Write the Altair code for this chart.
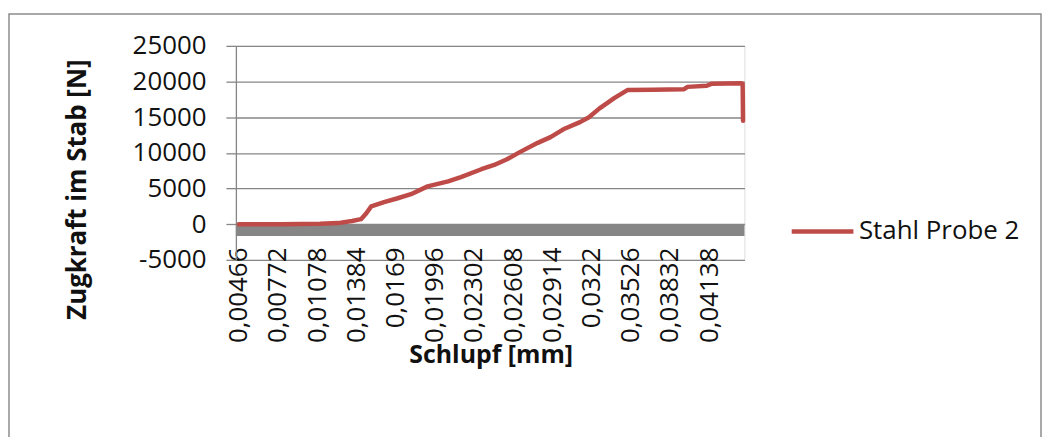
import altair as alt
import pandas as pd

# ---- data ----
series_name = "Stahl Probe 2"
slip_mm = [0.00466, 0.0080, 0.0110, 0.0124, 0.0135, 0.0142, 0.0146, 0.0150, 0.0160,
           0.0170, 0.0181, 0.0194, 0.0210, 0.0220, 0.0236, 0.0246, 0.0256, 0.0266,
           0.0280, 0.0290, 0.0300, 0.0313, 0.0320, 0.0328, 0.0340, 0.0350, 0.0370,
           0.0394, 0.0397, 0.0412, 0.0416, 0.0439, 0.0440, 0.04403]
force_n = [0, 0, 50, 150, 450, 700, 1500, 2500, 3100,
           3600, 4200, 5300, 6000, 6600, 7700, 8300, 9100, 10100,
           11400, 12200, 13300, 14300, 15000, 16200, 17700, 18800, 18850,
           18900, 19250, 19400, 19700, 19750, 19700, 14500]
x_tick_values = [0.00466, 0.00772, 0.01078, 0.01384, 0.0169, 0.01996, 0.02302,
                 0.02608, 0.02914, 0.0322, 0.03526, 0.03832, 0.04138]
y_tick_values = [-5000, 0, 5000, 10000, 15000, 20000, 25000]

df = pd.DataFrame({"Schlupf": slip_mm, "Zugkraft": force_n, "Serie": series_name})

W, H = 511, 215
X_DOMAIN = [0.00443, 0.04414]
Y_DOMAIN = [-5000, 25000]
ZERO_PX = H * (Y_DOMAIN[1] - 0) / (Y_DOMAIN[1] - Y_DOMAIN[0])

FONT = "Open Sans"
GRID = "#868686"
RED = "#BE4B48"
TXT = "#111111"

xscale = alt.Scale(domain=X_DOMAIN, nice=False, zero=False)
yscale = alt.Scale(domain=Y_DOMAIN, nice=False, zero=False)

x_axis = alt.Axis(
    values=x_tick_values,
    labelExpr="replace(format(datum.value, '.5~f'), '.', ',')",
    labelAngle=270, labelAlign="right", labelBaseline="middle",
    labelFont=FONT, labelFontSize=26, labelColor=TXT, labelPadding=23,
    labelOverlap=False, labelFlush=False, labelBound=False,
    ticks=False, grid=False, domain=False, offset=-(H - ZERO_PX),
    title="Schlupf [mm]", titleFont=FONT, titleFontSize=25, titleFontWeight="bold",
    titleColor=TXT, titleX=256, titleY=131, titleAlign="center", titleBaseline="middle",
)
y_axis = alt.Axis(
    values=y_tick_values,
    labelExpr="toString(datum.value)",
    labelFont=FONT, labelFontSize=26, labelColor=TXT, labelPadding=20,
    labelOverlap=False, labelFlush=False, labelBound=False,
    tickSize=10, tickColor=GRID, tickWidth=1.3,
    grid=True, gridColor=GRID, gridWidth=1.3,
    domain=True, domainColor=GRID, domainWidth=1.3,
    title="Zugkraft im Stab [N]", titleFont=FONT, titleFontSize=26, titleFontWeight="bold",
    titleColor=TXT, titleAngle=270, titleX=-159, titleY=144,
    titleAlign="center", titleBaseline="middle",
)

frame = alt.Chart(pd.DataFrame({"k": [0]})).mark_rect(
    fillOpacity=0, stroke="#8c8c8c", strokeWidth=1.5
).encode(x=alt.value(-228), x2=alt.value(809), y=alt.value(-32), y2=alt.value(420))

band = alt.Chart(pd.DataFrame({"k": [0]})).mark_rect(color=GRID).encode(
    x=alt.value(0), x2=alt.value(W),
    y=alt.YDatum(0, scale=yscale, axis=y_axis), y2=alt.value(ZERO_PX + 12),
)

line = alt.Chart(df).mark_line(strokeWidth=4.5, strokeJoin="round", strokeCap="round").encode(
    x=alt.X("Schlupf:Q", scale=xscale, axis=x_axis),
    y=alt.Y("Zugkraft:Q", scale=yscale, axis=y_axis),
    color=alt.Color(
        "Serie:N",
        scale=alt.Scale(domain=[series_name], range=[RED]),
        legend=alt.Legend(
            title=None, orient="none", legendX=556, legendY=153, padding=0,
            symbolType="stroke", symbolSize=3844, symbolStrokeWidth=4.5,
            labelFont=FONT, labelFontSize=26, labelColor=TXT, labelOffset=3,
            labelLimit=0,
        ),
    ),
)

chart = alt.layer(frame, band, line).properties(
    width=W, height=H,
    autosize=alt.AutoSizeParams(type="none"),
    padding={"left": 229, "top": 37, "right": 299, "bottom": 177},
).configure_view(stroke=None, strokeWidth=0).configure(background="white")

chart.save("out.html", embed_options={"renderer": "svg", "actions": False})
